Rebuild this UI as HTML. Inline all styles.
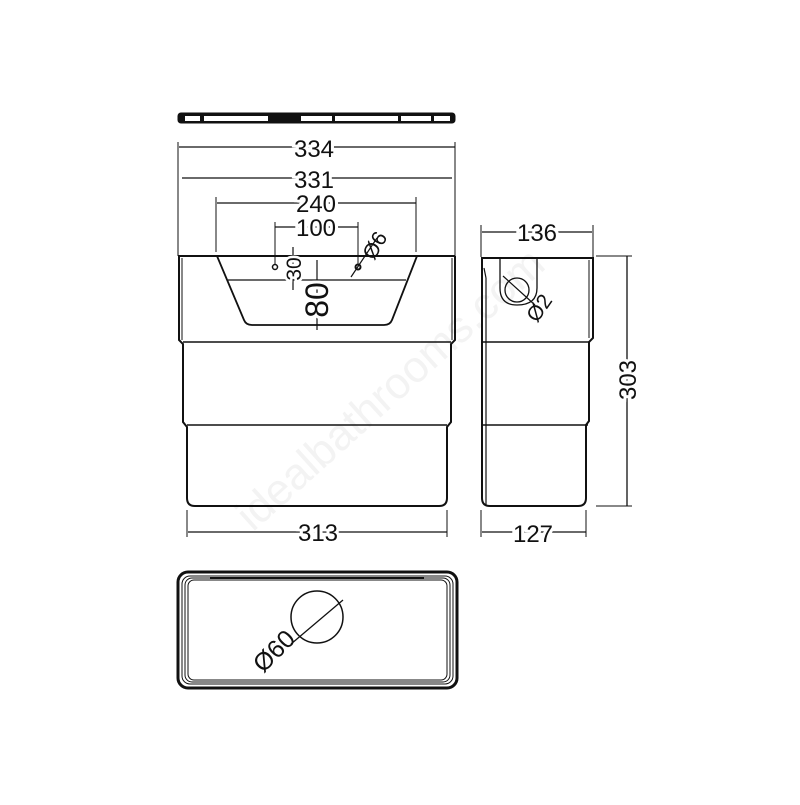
<!DOCTYPE html>
<html><head><style>body{margin:0;background:#fff}</style></head><body>
<svg width="800" height="800" viewBox="0 0 800 800" xmlns="http://www.w3.org/2000/svg" font-family="Liberation Sans, sans-serif">
<rect width="800" height="800" fill="#fff"/>
<text x="400" y="400" font-size="44" fill="#f3f3f3" text-anchor="middle" transform="rotate(-42 400 400)">idealbathrooms.com</text>
<g stroke="#111" fill="none" stroke-width="1.5">
<!-- lid -->
<rect x="178" y="113" width="277" height="10" rx="3" fill="#111" stroke-width="1"/>
<g fill="#fff" stroke="none">
<rect x="185" y="116" width="15" height="5"/><rect x="204" y="116" width="64" height="5"/>
<rect x="301" y="116" width="31" height="5"/><rect x="335" y="116" width="63" height="5"/>
<rect x="401" y="116" width="30" height="5"/><rect x="434" y="116" width="16" height="5"/>
</g>
<!-- dims front -->
<path d="M178 142V256M455 142V256" stroke-width="1"/>
<line x1="179" y1="147" x2="455" y2="147" stroke-width="1.3"/>
<line x1="182" y1="178" x2="452" y2="178" stroke-width="1.3"/>
<path d="M216 197V252M416 197V252" stroke-width="1"/>
<line x1="217" y1="203" x2="416" y2="203" stroke-width="1.3"/>
<path d="M275 222V265M358 222V265" stroke-width="1"/>
<line x1="275" y1="227" x2="358" y2="227" stroke-width="1.3"/>
<!-- body front -->
<line x1="178" y1="256" x2="455" y2="256" stroke-width="2"/>
<path d="M179 256V340L183 344V422L187 427V498Q187 506 195 506H439Q447 506 447 498V427L451 422V344L455 340V256" stroke-width="2"/>
<path d="M182 258V340M452 258V340" stroke-width="1"/>
<line x1="183" y1="342" x2="451" y2="342" stroke-width="1.5"/>
<line x1="187" y1="425" x2="447" y2="425" stroke-width="1.5"/>
<path d="M217 256L244 320Q246 325 252 325H384Q390 325 392 320L417 256" stroke-width="1.8"/>
<line x1="228" y1="280" x2="406" y2="280" stroke-width="1.2"/>
<line x1="317" y1="260" x2="317" y2="330" stroke-width="1.2"/>
<line x1="293" y1="247" x2="293" y2="290" stroke-width="1.2"/>
<circle cx="275" cy="267" r="2.5"/>
<circle cx="358" cy="267" r="2.5" stroke-width="2"/>
<line x1="351" y1="277" x2="377" y2="238" stroke-width="1.2"/>
<!-- 313 -->
<path d="M187 510V537M447 510V537" stroke-width="1"/>
<line x1="188" y1="532" x2="447" y2="532" stroke-width="1.3"/>
<!-- side view -->
<path d="M481 225V257M593 225V257" stroke-width="1"/>
<line x1="482" y1="232" x2="592" y2="232" stroke-width="1.3"/>
<path d="M482 258V498Q482 506 490 506H578Q586 506 586 498V425L589 421V342L593 338V258Z" stroke-width="2"/>
<line x1="482" y1="258" x2="593" y2="258" stroke-width="1.5"/>
<path d="M486 278V505M484 268L486 278" stroke-width="1.2"/>
<path d="M589 260V338" stroke-width="1"/>
<line x1="482" y1="342" x2="589" y2="342" stroke-width="1.5"/>
<line x1="482" y1="425" x2="588" y2="425" stroke-width="1.5"/>
<path d="M500 258V288Q500 305 517 305Q537 305 537 288V258" stroke-width="1.3"/>
<circle cx="517" cy="290" r="12" stroke-width="1.3"/>
<line x1="503" y1="276" x2="535" y2="305" stroke-width="1.2"/>
<path d="M596 256H632M596 506H632" stroke-width="1"/>
<line x1="627" y1="256" x2="627" y2="506" stroke-width="1.3"/>
<path d="M481 510V537M586 510V537" stroke-width="1"/>
<line x1="482" y1="532" x2="586" y2="532" stroke-width="1.3"/>
<!-- plan view -->
<rect x="178" y="572" width="279" height="116" rx="10" stroke-width="3"/>
<rect x="182" y="576" width="271" height="108" rx="8" stroke-width="1"/>
<rect x="185" y="578" width="265" height="104" rx="7" stroke-width="1"/>
<rect x="188" y="580" width="259" height="100" rx="6" stroke-width="1"/>
<line x1="210" y1="578" x2="424" y2="578" stroke-width="2"/>
<circle cx="317" cy="617" r="26" stroke-width="1.5"/>
<line x1="291" y1="644" x2="343" y2="600" stroke-width="1.3"/>
</g>
<g fill="#111" font-size="24" text-anchor="middle">
<text x="314" y="157" stroke="#fff" stroke-width="6" paint-order="stroke">334</text>
<text x="314" y="188" stroke="#fff" stroke-width="6" paint-order="stroke">331</text>
<text x="316" y="212" stroke="#fff" stroke-width="6" paint-order="stroke">240</text>
<text x="316" y="236" stroke="#fff" stroke-width="6" paint-order="stroke">100</text>
<text x="318" y="541" stroke="#fff" stroke-width="6" paint-order="stroke">313</text>
<text x="537" y="241" stroke="#fff" stroke-width="6" paint-order="stroke">136</text>
<text x="533" y="542" stroke="#fff" stroke-width="6" paint-order="stroke">127</text>
<text transform="translate(636 380) rotate(-90)" stroke="#fff" stroke-width="6" paint-order="stroke">303</text>
<text transform="translate(301 269) rotate(-90)" font-size="21" stroke="#fff" stroke-width="5" paint-order="stroke">30</text>
<text transform="translate(328 300) rotate(-90)" font-size="32" stroke="#fff" stroke-width="6" paint-order="stroke">80</text>
<text transform="translate(381 249) rotate(-60)" font-size="21">Ø6</text>
<text transform="translate(545 312) rotate(-55)" font-size="21">Ø2</text>
<text transform="translate(280 657) rotate(-45)" font-size="25">Ø60</text>
</g>
</svg>
</body></html>
